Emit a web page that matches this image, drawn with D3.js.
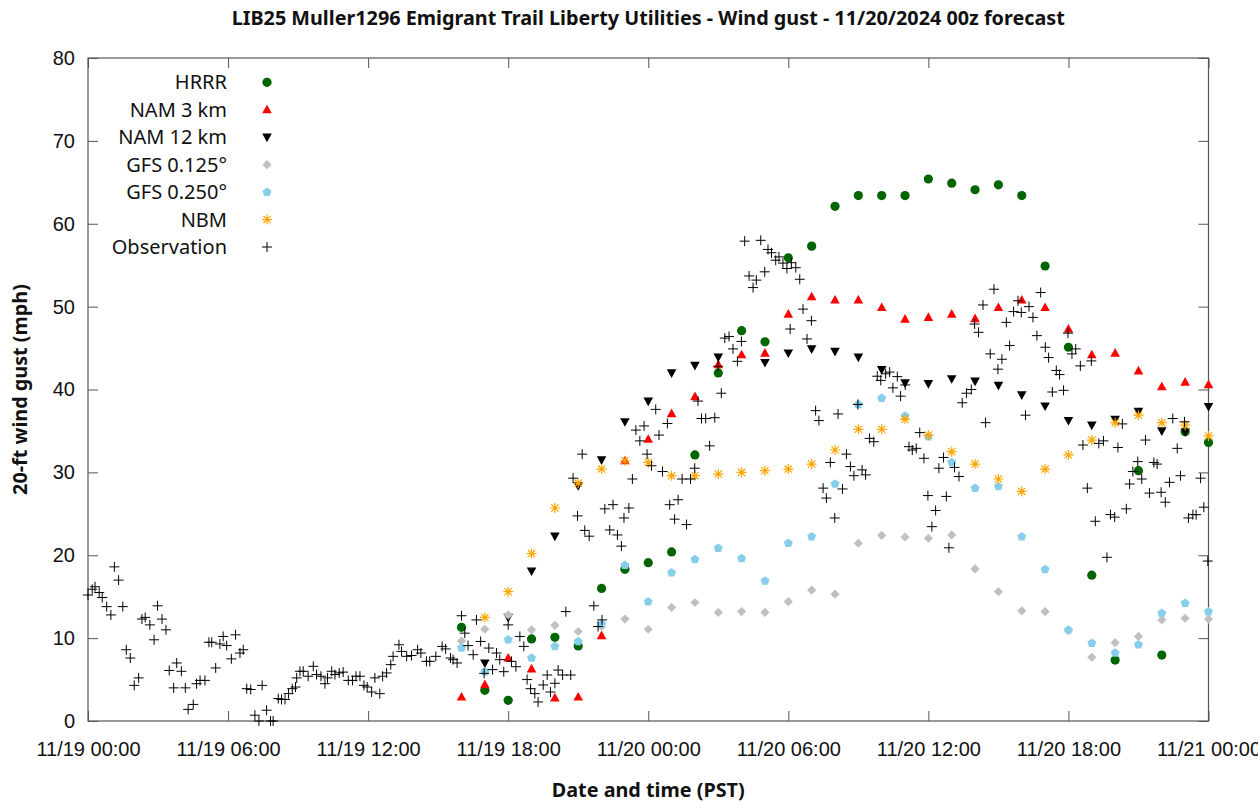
<!DOCTYPE html>
<html>
<head>
<meta charset="utf-8">
<script src="https://cdn.jsdelivr.net/npm/d3@7"></script>
<style>
  body { margin: 0; background: #fff; }
  svg { display: block; font-family: "Noto Sans", sans-serif; }
  .tick text { font-size: 20px; fill: #111; }
  .bold { font-weight: bold; font-size: 19.8px; fill: #111; }
</style>
</head>
<body>
<div id="chart"></div>
<script>
// Forecast valid hours (hours after 11/19 00:00 PST)
const forecastHours = [16, 17, 18, 19, 20, 21, 22, 23, 24, 25, 26, 27, 28, 29, 30, 31, 32,
                       33, 34, 35, 36, 37, 38, 39, 40, 41, 42, 43, 44, 45, 46, 47, 48];

const hrrr = [11.3, 3.7, 2.5, 9.9, 10.1, 9.05, 16.0, 18.3, 19.1, 20.4, 32.1, 42.0, 47.1, 45.75, 55.9, 57.3, 62.1,
              63.4, 63.4, 63.4, 65.4, 64.9, 64.1, 64.7, 63.4, 54.9, 45.1, 17.6, 7.35, 30.2, 7.95, 34.9, 33.6];
const nam3 = [2.9, 4.4, 7.6, 6.3, 2.8, 2.9, 10.3, 31.4, 34.0, 37.1, 39.15, 43.0, 44.2, 44.4, 49.1, 51.2, 50.8,
              50.8, 49.9, 48.5, 48.7, 49.1, 48.55, 49.9, 50.8, 49.9, 47.3, 44.2, 44.4, 42.25, 40.35, 40.9, 40.6];
const nam12 = [null, 7.0, 12.5, 18.1, 22.3, 28.4, 31.5, 36.1, 38.6, 42.0, 42.9, 43.9, null, 43.25, 44.4, 44.9, 44.6,
               43.9, 42.4, 40.8, 40.7, 41.3, 41.0, 40.5, 39.35, 38.0, 36.25, 35.7, 36.4, 37.35, 35.0, 34.9, 37.95];
const gfs0125 = [9.66, 11.07, 12.8, 11.0, 11.55, 10.8, 11.4, 12.3, 11.07, 13.7, 14.3, 13.1, 13.2, 13.1, 14.4, 15.8, 15.3,
                 21.45, 22.4, 22.2, 22.05, 22.45, 18.35, 15.6, 13.3, 13.2, 10.9, 7.7, 9.45, 10.2, 12.2, 12.4, 12.3];
const gfs0250 = [8.8, 5.95, 9.8, 7.6, 9.0, 9.6, 11.7, 18.8, 14.4, 17.9, 19.5, 20.85, 19.6, 16.9, 21.45, 22.25, 28.6,
                 38.2, 38.95, 36.8, 34.3, 31.2, 28.1, 28.3, 22.25, 18.3, 11.0, 9.4, 8.2, 9.2, 13.0, 14.2, 13.2];
const nbm = [null, 12.5, 15.6, 20.2, 25.7, 28.7, 30.4, 31.4, 31.2, 29.6, 29.6, 29.8, 30.0, 30.2, 30.4, 31.0, 32.7,
             35.2, 35.2, 36.4, 34.5, 32.5, 31.0, 29.2, 27.7, 30.4, 32.1, 33.9, 36.0, 36.9, 36.0, 35.7, 34.4];

// Observations (hours after 11/19 00:00 PST, gust in mph)
const obsHours = [0.00, 0.18, 0.30, 0.48, 0.61, 0.80, 0.98, 1.13, 1.31, 1.49, 1.64, 1.81, 1.98, 2.17, 2.31, 2.45,
  2.65, 2.83, 2.98, 3.17, 3.34, 3.48, 3.67, 3.80, 4.00, 4.17, 4.29, 4.51, 4.65, 4.80, 5.01, 5.18, 5.30, 5.47, 5.65,
  5.79, 5.94, 6.14, 6.32, 6.51, 6.65, 6.80, 6.97, 7.15, 7.32, 7.46, 7.65, 7.82, 7.93, 8.15, 8.29, 8.44, 8.59, 8.75,
  8.89, 8.94, 9.08, 9.22, 9.43, 9.65, 9.79, 9.98, 10.15, 10.26, 10.44, 10.58, 10.76, 10.93, 11.15, 11.33, 11.48,
  11.65, 11.82, 11.96, 12.15, 12.29, 12.50, 12.62, 12.79, 12.97, 13.07, 13.32, 13.43, 13.65, 13.86, 14.12, 14.26,
  14.50, 14.64, 14.90, 15.17, 15.32, 15.53, 15.64, 15.81, 16.00, 16.14, 16.28, 16.50, 16.64, 16.82, 16.97, 17.17,
  17.33, 17.50, 17.64, 17.81, 18.00, 18.14, 18.33, 18.50, 18.67, 18.81, 18.96, 19.14, 19.28, 19.50, 19.67, 19.81,
  20.00, 20.14, 20.33, 20.47, 20.68, 20.78, 20.97, 21.17, 21.28, 21.47, 21.67, 21.85, 22.02, 22.14, 22.35, 22.49,
  22.68, 22.85, 22.96, 23.17, 23.32, 23.47, 23.64, 23.82, 23.95, 24.14, 24.32, 24.46, 24.61, 24.82, 24.92, 25.13,
  25.28, 25.45, 25.64, 25.81, 25.99, 26.13, 26.28, 26.46, 26.63, 26.85, 26.99, 27.13, 27.28, 27.46, 27.63, 27.82,
  27.99, 28.13, 28.32, 28.49, 28.63, 28.82, 28.99, 29.13, 29.28, 29.46, 29.60, 29.77, 29.94, 30.08, 30.13, 30.32,
  30.49, 30.63, 30.80, 30.99, 31.17, 31.31, 31.49, 31.63, 31.80, 31.99, 32.13, 32.32, 32.49, 32.66, 32.81, 32.98,
  33.16, 33.31, 33.48, 33.66, 33.81, 33.96, 34.17, 34.34, 34.48, 34.67, 34.81, 35.01, 35.17, 35.31, 35.48, 35.63,
  35.81, 35.98, 36.15, 36.31, 36.45, 36.65, 36.77, 36.88, 37.12, 37.31, 37.45, 37.63, 37.84, 37.98, 38.15, 38.34,
  38.45, 38.65, 38.81, 38.98, 39.15, 39.34, 39.48, 39.65, 39.84, 39.98, 40.16, 40.31, 40.48, 40.65, 40.81, 41.01,
  41.15, 41.31, 41.48, 41.62, 41.79, 41.98, 42.15, 42.31, 42.51, 42.62, 42.81, 42.98, 43.15, 43.30, 43.50, 43.65,
  43.80, 43.98, 44.12, 44.31, 44.48, 44.62, 44.76, 44.97, 45.14, 45.30, 45.47, 45.66, 45.80, 45.97, 46.15, 46.33,
  46.47, 46.66, 46.80, 46.97, 47.14, 47.33, 47.47, 47.66, 47.80, 47.97];
const obsGust = [15.2, 15.9, 16.2, 15.5, 14.9, 13.8, 12.8, 18.6, 17.0, 13.8, 8.6, 7.6, 4.3, 5.2, 12.3, 12.5,
  11.6, 9.8, 13.9, 12.3, 11.0, 6.1, 4.0, 7.0, 6.0, 4.0, 1.4, 2.0, 4.5, 4.9, 4.9, 9.5, 9.5, 6.4, 9.3,
  10.2, 9.1, 7.5, 10.4, 8.2, 8.6, 3.9, 3.8, 0.7, 0.0, 4.3, 1.3, 0.0, 0.0, 2.7, 2.6, 2.6, 3.3, 3.9,
  4.1, 5.2, 6.0, 6.0, 5.4, 6.6, 5.6, 5.4, 4.5, 5.2, 6.0, 5.6, 5.8, 5.9, 4.9, 4.9, 5.4,
  5.4, 4.3, 4.1, 3.5, 5.2, 3.3, 5.4, 5.8, 6.8, 7.8, 9.2, 8.4, 7.8, 7.9, 8.6, 8.2,
  7.2, 7.2, 7.8, 9.0, 8.7, 7.6, 7.4, 7.0, 12.7, 10.6, 9.1, 8.0, 12.2, 9.6, 5.75, 8.8,
  6.2, 8.2, 7.4, 5.95, 11.6, 7.2, 6.55, 10.2, 9.0, 5.0, 3.9, 3.3, 2.3, 4.35, 5.55, 3.5,
  4.55, 6.15, 5.55, 13.2, 5.55, 29.3, 24.75, 32.2, 23.0, 22.3, 13.9, 11.4, 12.2, 25.6, 23.05, 26.1,
  22.45, 21.1, 24.5, 25.7, 29.2, 35.1, 33.8, 35.6, 32.2, 30.8, 37.6, 34.5, 30.1, 35.9, 26.1, 24.35,
  26.7, 29.2, 23.7, 29.2, 30.5, 38.6, 36.5, 36.5, 33.2, 36.6, 42.8, 39.55, 46.2, 46.4, 44.9, 43.4,
  45.8, 57.9, 53.7, 52.3, 53.2, 58.0, 54.2, 56.9, 56.5, 55.6, 56.0, 55.25, 54.6, 47.3, 55.3, 54.7,
  53.3, 49.7, 46.1, 48.3, 37.45, 36.25, 28.1, 26.9, 31.2, 24.5, 37.05, 28.0, 32.2, 30.7, 29.6, 38.2,
  30.3, 29.7, 34.1, 33.7, 41.6, 41.1, 41.9, 42.1, 40.2, 41.55, 39.2, 40.55, 33.1, 32.7, 32.9, 34.8,
  31.7, 27.2, 23.45, 25.4, 30.5, 31.8, 27.1, 20.9, 30.6, 29.5, 38.4, 39.55, 40.0, 47.9, 46.9, 50.2,
  36.0, 44.3, 52.1, 42.45, 43.65, 48.1, 45.3, 49.4, 50.7, 49.3, 36.9, 50.0, 48.7, 46.5, 51.7, 45.1,
  43.85, 39.7, 42.3, 41.8, 39.9, 46.8, 44.3, 44.9, 42.85, 33.3, 28.1, 43.45, 24.1, 33.5, 33.8, 19.75,
  24.9, 24.6, 33.0, 35.85, 25.6, 28.6, 30.1, 31.3, 29.2, 33.9, 27.5, 31.2, 31.0, 27.6, 26.4, 28.8,
  36.5, 32.9, 29.6, 36.1, 24.5, 24.9, 24.9, 29.3, 25.8, 19.3];

const yTicks = [0, 10, 20, 30, 40, 50, 60, 70, 80];
const legendNames = ['HRRR', 'NAM 3 km', 'NAM 12 km', 'GFS 0.125°', 'GFS 0.250°', 'NBM', 'Observation'];

// Layout
const WIDTH = 1258, HEIGHT = 803;
const LEFT = 88, RIGHT = 1208.5, TOP = 58, BOTTOM = 721;
const TICK = 10;

const start = new Date(2024, 10, 19, 0, 0);
const end = new Date(2024, 10, 21, 0, 0);
const toDate = h => new Date(start.getTime() + h * 3600e3);

const xScale = d3.scaleTime().domain([start, end]).range([LEFT, RIGHT]);
const yScale = d3.scaleLinear().domain([0, 80]).range([BOTTOM, TOP]);

// Marker shapes, r is roughly the half-width in pixels
const shapes = {
  circle: (g, r) => g.append('circle').attr('r', r),
  up: (g, r) => g.append('path').attr('d', `M0,${-r * 1.05}L${r},${r * 0.75}L${-r},${r * 0.75}Z`),
  down: (g, r) => g.append('path').attr('d', `M0,${r * 1.05}L${r},${-r * 0.75}L${-r},${-r * 0.75}Z`),
  diamond: (g, r) => g.append('path').attr('d', `M0,${-r}L${r},0L0,${r}L${-r},0Z`),
  pentagon: (g, r) => g.append('path').attr('d', d3.line()(d3.range(5).map(i => {
    const a = -Math.PI / 2 + i * 2 * Math.PI / 5;
    return [r * Math.cos(a), r * Math.sin(a)];
  })) + 'Z'),
  star: (g, r) => {
    const d = r * 0.72;
    return g.append('path').attr('d', `M${-r},0H${r}M0,${-r}V${r}M${-d},${-d}L${d},${d}M${-d},${d}L${d},${-d}`);
  },
  plus: (g, r) => g.append('path').attr('d', `M${-r},0H${r}M0,${-r}V${r}`)
};

const series = [
  { name: legendNames[0], values: hrrr, shape: 'circle', r: 4.6, fill: '#006400' },
  { name: legendNames[1], values: nam3, shape: 'up', r: 4.8, fill: '#ff0000' },
  { name: legendNames[2], values: nam12, shape: 'down', r: 4.8, fill: '#000000' },
  { name: legendNames[3], values: gfs0125, shape: 'diamond', r: 4.6, fill: '#c0c0c0' },
  { name: legendNames[4], values: gfs0250, shape: 'pentagon', r: 4.7, fill: '#87ceeb' },
  { name: legendNames[5], values: nbm, shape: 'star', r: 5, stroke: '#ffa500' }
];

function drawMark(g, s) {
  const m = shapes[s.shape](g, s.r);
  if (s.fill) m.attr('fill', s.fill);
  else m.attr('fill', 'none').attr('stroke', s.stroke).attr('stroke-width', 1.2);
}

const svg = d3.select('#chart').append('svg')
  .attr('width', WIDTH)
  .attr('height', HEIGHT);

// Axes with inward ticks, mirrored on top and right
const xTicks = d3.timeHour.every(6).range(start, d3.timeHour.offset(end, 1));
svg.append('g')
  .attr('transform', `translate(0,${BOTTOM})`)
  .call(d3.axisBottom(xScale).tickValues(xTicks).tickFormat(d3.timeFormat('%m/%d %H:%M'))
    .tickSizeInner(-TICK).tickSizeOuter(0).tickPadding(21));
svg.append('g')
  .attr('transform', `translate(0,${TOP})`)
  .call(d3.axisTop(xScale).tickValues(xTicks).tickFormat('').tickSizeInner(-TICK).tickSizeOuter(0));
svg.append('g')
  .attr('transform', `translate(${LEFT},0)`)
  .call(d3.axisLeft(yScale).tickValues(yTicks).tickSizeInner(-TICK).tickSizeOuter(0).tickPadding(13));
svg.append('g')
  .attr('transform', `translate(${RIGHT},0)`)
  .call(d3.axisRight(yScale).tickValues(yTicks).tickFormat('').tickSizeInner(-TICK).tickSizeOuter(0));

svg.selectAll('.domain').remove();
svg.selectAll('.tick line').attr('stroke', '#555');
svg.selectAll('.tick text').attr('font-family', null);

// Frame
svg.append('rect')
  .attr('x', LEFT).attr('y', TOP)
  .attr('width', RIGHT - LEFT).attr('height', BOTTOM - TOP)
  .attr('fill', 'none').attr('stroke', '#555').attr('stroke-width', 1.2);

// Forecast series
series.forEach(s => {
  const g = svg.append('g');
  forecastHours.forEach((h, i) => {
    if (s.values[i] == null) return;
    const p = g.append('g')
      .attr('transform', `translate(${xScale(toDate(h))},${yScale(s.values[i])})`);
    drawMark(p, s);
  });
});

// Observations
svg.append('g')
  .selectAll('path')
  .data(obsHours.map((h, i) => [h, obsGust[i]]))
  .enter()
  .append('path')
  .attr('transform', d => `translate(${xScale(toDate(d[0]))},${yScale(d[1])})`)
  .attr('d', 'M-5,0H5M0,-5V5')
  .attr('stroke', '#000')
  .attr('stroke-width', 1)
  .attr('fill', 'none');

// Legend
const legend = svg.append('g').style('font-size', '20px');
const legendSeries = series.concat([{ name: legendNames[6], shape: 'plus', r: 5, stroke: '#000' }]);
legendSeries.forEach((s, i) => {
  const y = 82.3 + i * 27.45;
  legend.append('text')
    .attr('x', 227).attr('y', y).attr('dy', '0.35em')
    .attr('text-anchor', 'end').attr('fill', '#111')
    .text(s.name);
  const p = legend.append('g').attr('transform', `translate(267,${y})`);
  if (s.shape === 'plus') {
    shapes.plus(p, s.r).attr('stroke', '#000').attr('stroke-width', 1).attr('fill', 'none');
  } else {
    drawMark(p, s);
  }
});

// Titles
svg.append('text')
  .attr('class', 'bold')
  .attr('x', (LEFT + RIGHT) / 2).attr('y', 25)
  .attr('text-anchor', 'middle')
  .text('LIB25 Muller1296 Emigrant Trail Liberty Utilities - Wind gust - 11/20/2024 00z forecast');

svg.append('text')
  .attr('class', 'bold')
  .attr('x', (LEFT + RIGHT) / 2).attr('y', 797)
  .attr('text-anchor', 'middle')
  .text('Date and time (PST)');

svg.append('text')
  .attr('class', 'bold')
  .attr('transform', `translate(27,${(TOP + BOTTOM) / 2}) rotate(-90)`)
  .attr('text-anchor', 'middle')
  .text('20-ft wind gust (mph)');
</script>
</body>
</html>
